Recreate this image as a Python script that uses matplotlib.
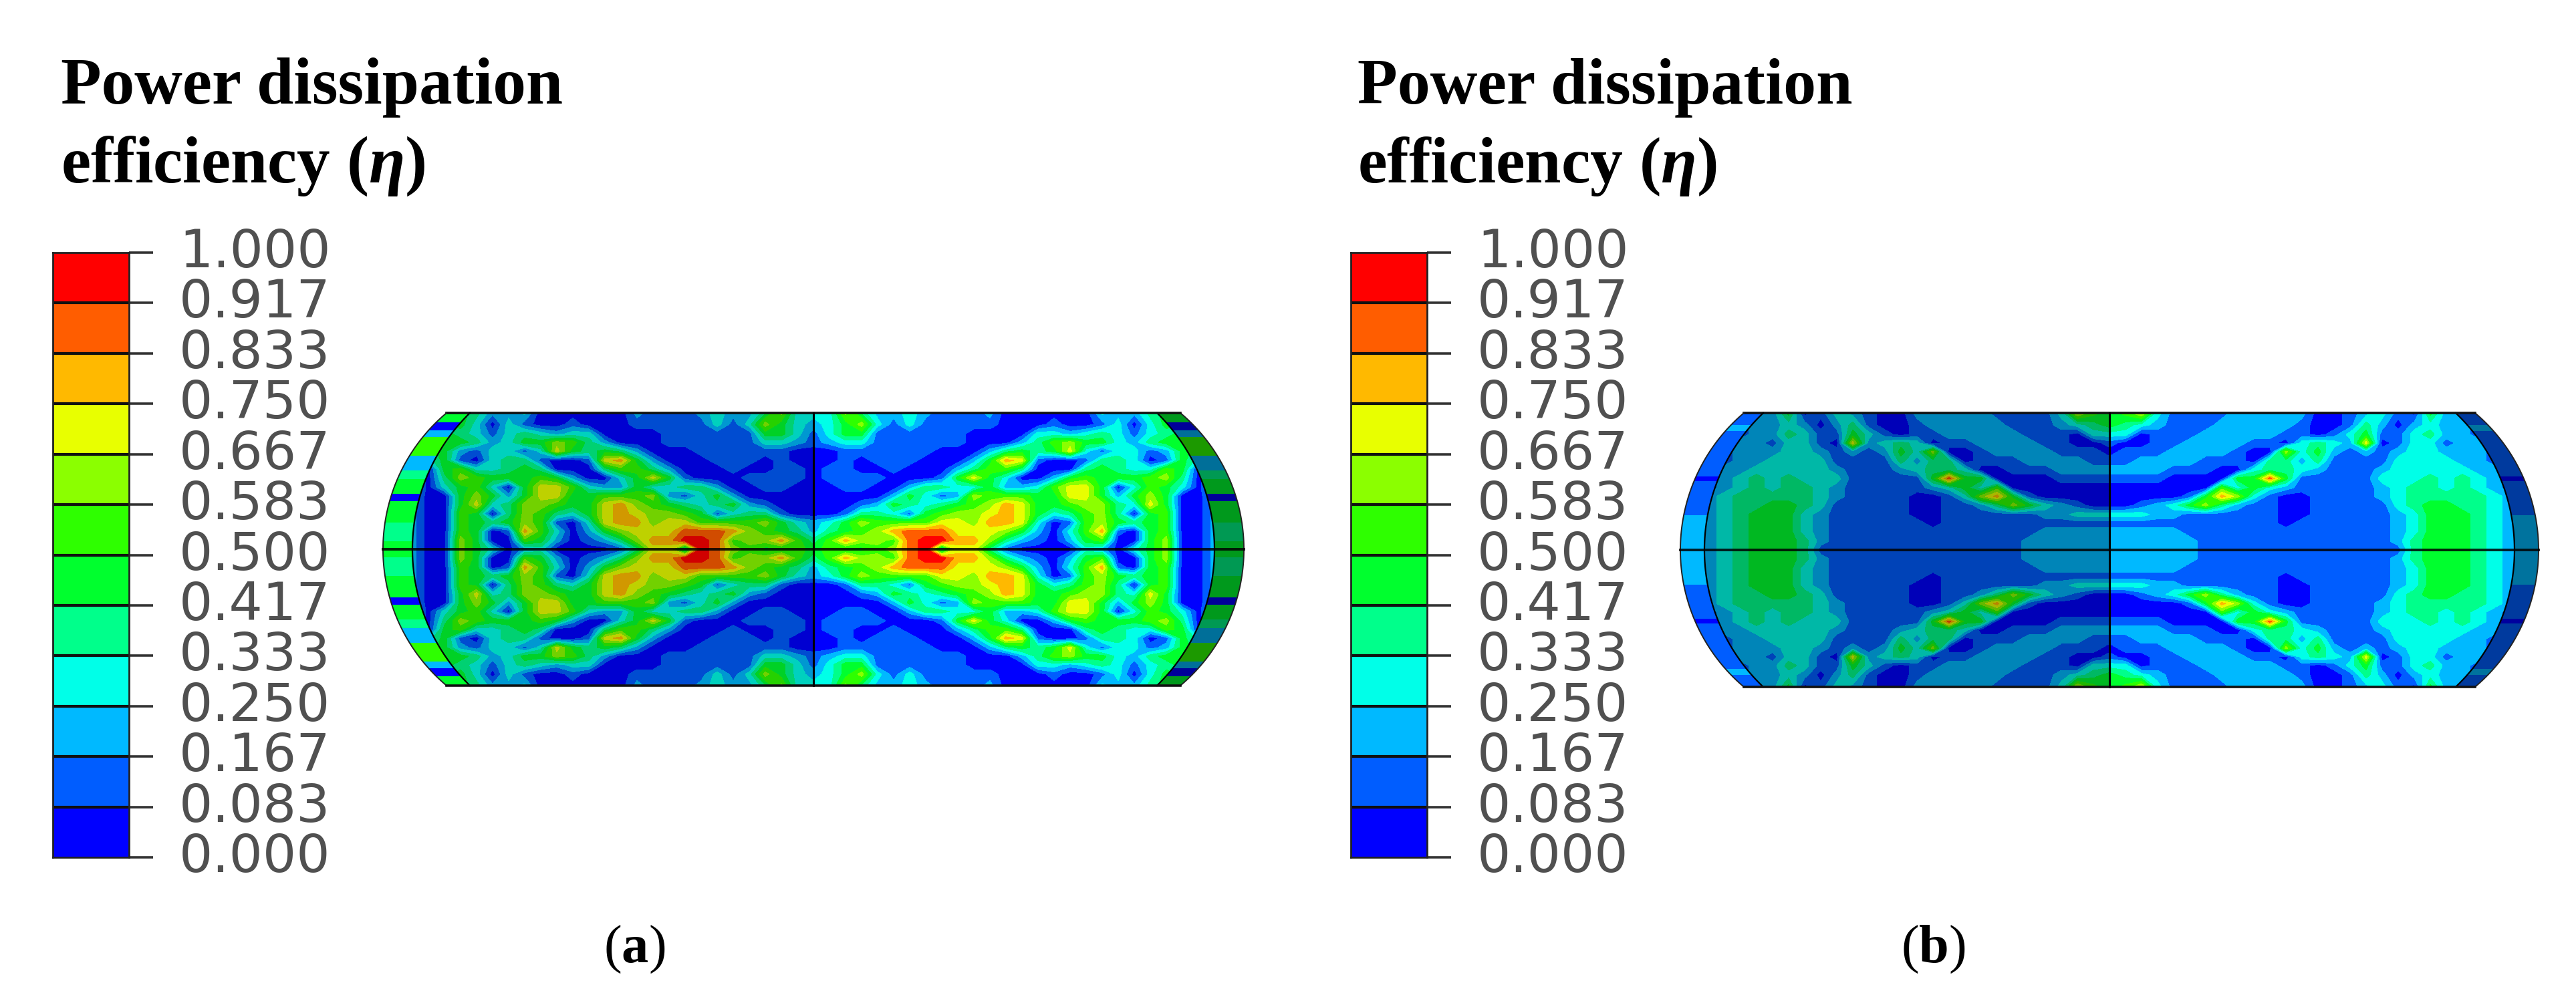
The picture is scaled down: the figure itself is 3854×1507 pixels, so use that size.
import numpy as np
import matplotlib
matplotlib.use("Agg")
import matplotlib.pyplot as plt
from matplotlib.path import Path
from matplotlib.patches import PathPatch

W, H = 3855, 1507

plt.rcParams['mathtext.fontset'] = 'custom'
plt.rcParams['mathtext.rm'] = 'Liberation Serif'
plt.rcParams['mathtext.bf'] = 'Liberation Serif:bold'
plt.rcParams['mathtext.bfit'] = 'Liberation Serif:italic:bold'

tick_values = ["1.000", "0.917", "0.833", "0.750", "0.667", "0.583", "0.500",
               "0.417", "0.333", "0.250", "0.167", "0.083", "0.000"]
spectrum = ["#0000ff", "#005dff", "#00b9ff", "#00ffe8", "#00ff8b", "#00ff2e",
            "#2eff00", "#8bff00", "#e8ff00", "#ffb900", "#ff5d00", "#ff0000"]

# contour band read at each grid node (0 = bottom legend band, 11 = top), top-right quarter
# rows run from the top edge down to the centre line
bands_a = [
    [3, 3, 7, 4, 2, 2, 3, 2, 1, 1, 1, 2, 0, 0, 0, 0, 0, 0, 3, 2, 2, 4, 5, 3, 3, 3, 3],
    [2, 3, 5, 7, 3, 1, 3, 1, 1, 1, 1, 1, 0, 0, 0, 1, 0, 0, 1, 3, 0, 3, 5, 4, 3, 3, 3],
    [1, 3, 5, 5, 1, 1, 1, 1, 1, 1, 0, 0, 0, 0, 3, 3, 2, 3, 4, 3, 1, 3, 4, 5, 4, 3, 3],
    [1, 2, 3, 3, 1, 1, 1, 1, 1, 1, 0, 0, 0, 2, 4, 6, 7, 5, 5, 3, 2, 4, 5, 5, 5, 3, 3],
    [0, 0, 1, 1, 1, 1, 1, 1, 0, 0, 0, 2, 4, 5, 4, 5, 8, 3, 1, 3, 3, 1, 2, 5, 4, 3, 3],
    [0, 0, 1, 0, 1, 1, 1, 0, 0, 0, 2, 5, 9, 8, 1, 0, 0, 1, 4, 4, 3, 0, 1, 5, 3, 3, 3],
    [0, 1, 1, 0, 0, 1, 0, 0, 0, 2, 4, 6, 6, 4, 0, 0, 0, 4, 5, 4, 3, 3, 6, 5, 0, 3, 3],
    [0, 1, 1, 1, 1, 0, 0, 0, 1, 5, 8, 5, 3, 0, 0, 2, 5, 6, 5, 5, 5, 6, 7, 4, 0, 3, 3],
    [0, 0, 1, 1, 0, 0, 2, 4, 4, 3, 3, 5, 2, 2, 3, 6, 8, 8, 5, 0, 3, 6, 5, 3, 0, 3, 3],
    [0, 0, 0, 0, 0, 2, 5, 3, 1, 2, 7, 6, 6, 6, 5, 5, 8, 8, 5, 2, 5, 7, 5, 0, 0, 2, 3],
    [0, 0, 0, 1, 2, 5, 4, 3, 4, 5, 6, 7, 9, 8, 5, 5, 6, 7, 7, 4, 3, 8, 5, 0, 0, 2, 3],
    [0, 0, 1, 4, 4, 3, 1, 5, 6, 7, 7, 8, 9, 8, 5, 3, 4, 6, 7, 4, 0, 5, 6, 0, 0, 2, 3],
    [2, 3, 5, 7, 6, 6, 6, 6, 8, 8, 7, 9, 9, 8, 3, 0, 1, 6, 7, 5, 4, 5, 6, 0, 0, 2, 3],
    [2, 4, 5, 6, 7, 9, 10, 10, 10, 8, 8, 8, 7, 5, 2, 0, 3, 6, 9, 1, 0, 5, 6, 0, 0, 2, 3],
    [4, 6, 9, 7, 7, 6, 10, 11, 11, 9, 9, 7, 4, 2, 1, 0, 2, 5, 6, 0, 0, 5, 7, 0, 0, 2, 3],
    [5, 6, 5, 5, 6, 7, 10, 11, 3, 8, 8, 4, 1, 0, 0, 0, 0, 3, 2, 0, 3, 5, 7, 0, 0, 2, 3],
]
bands_b = [
    [5, 6, 8, 3, 1, 1, 1, 1, 2, 2, 2, 2, 2, 0, 0, 1, 2, 3, 1, 0, 5, 2, 2, 1, 1, 1, 1],
    [5, 4, 3, 2, 1, 1, 1, 2, 2, 2, 2, 2, 1, 0, 0, 1, 4, 2, 0, 2, 3, 2, 2, 1, 1, 1, 1],
    [3, 3, 0, 1, 1, 1, 2, 2, 2, 2, 2, 1, 1, 0, 1, 3, 5, 1, 1, 3, 4, 2, 2, 1, 1, 1, 1],
    [1, 0, 0, 1, 1, 2, 2, 2, 2, 1, 1, 0, 3, 4, 3, 2, 8, 0, 1, 3, 3, 1, 2, 2, 1, 1, 1],
    [0, 1, 1, 1, 2, 2, 2, 2, 1, 0, 0, 7, 3, 5, 2, 1, 2, 1, 2, 3, 3, 2, 2, 2, 1, 1, 1],
    [1, 1, 2, 2, 2, 2, 1, 1, 1, 0, 4, 4, 2, 4, 1, 1, 1, 1, 3, 3, 3, 3, 2, 2, 1, 1, 1],
    [2, 2, 2, 2, 1, 1, 1, 0, 0, 3, 4, 4, 3, 2, 1, 1, 1, 2, 3, 3, 3, 3, 3, 2, 2, 1, 1],
    [1, 1, 1, 1, 0, 0, 0, 0, 5, 5, 10, 5, 1, 1, 1, 1, 1, 3, 3, 3, 4, 3, 4, 3, 2, 1, 1],
    [0, 0, 0, 0, 0, 0, 0, 6, 3, 5, 3, 2, 1, 1, 1, 1, 1, 2, 3, 4, 4, 3, 4, 3, 2, 1, 1],
    [0, 0, 0, 0, 0, 1, 5, 9, 7, 3, 1, 0, 0, 1, 1, 1, 1, 2, 3, 4, 4, 4, 4, 4, 3, 2, 2],
    [0, 0, 1, 2, 3, 5, 7, 4, 2, 1, 1, 0, 0, 1, 1, 1, 1, 1, 3, 4, 5, 5, 4, 4, 3, 2, 2],
    [3, 3, 3, 2, 2, 1, 1, 1, 1, 1, 1, 0, 0, 1, 1, 1, 1, 1, 2, 3, 5, 5, 5, 4, 3, 2, 2],
    [1, 1, 1, 1, 1, 1, 1, 1, 1, 1, 1, 0, 1, 1, 1, 1, 1, 1, 2, 3, 5, 5, 5, 4, 3, 2, 2],
    [2, 2, 2, 2, 2, 1, 1, 1, 1, 1, 1, 1, 1, 1, 1, 1, 1, 1, 2, 3, 5, 5, 5, 4, 3, 2, 2],
    [2, 2, 2, 2, 2, 2, 1, 1, 1, 1, 1, 1, 1, 1, 1, 1, 1, 1, 2, 4, 5, 5, 5, 4, 3, 2, 2],
    [2, 2, 2, 2, 2, 2, 1, 1, 1, 1, 1, 1, 1, 1, 1, 1, 1, 1, 1, 4, 5, 5, 5, 4, 3, 2, 2],
]
grid_x = [0, 24, 48, 72, 96, 120, 144, 168, 192, 216, 240, 264, 288, 312, 336, 360, 384, 408,
          432, 456, 480, 504, 528, 552, 576, 600, 624]
grid_y = [206, 187, 173, 160, 147, 133, 120, 107, 93, 80, 67, 53, 40, 27, 13, 0]

# stripes on the end caps, from the centre line outwards
cap_edges_a = [0, 12, 40, 72, 83, 105, 118, 140, 168, 178, 190, 206]
cap_bands_a = [5, 4, 5, 0, 5, 4, 2, 6, 2, 0, 5]
cap_edges_b = [0, 52, 103, 110, 178, 187, 206]
cap_bands_b = [2, 1, 0, 1, 2, 1]


def shade(color, k):
    return tuple(c * k for c in matplotlib.colors.to_rgb(color))


def arc_x(y, top, mid, hh):
    s = mid - top
    r = (hh ** 2 + s ** 2) / (2 * s)
    return mid - r + np.sqrt(r ** 2 - y ** 2)


def barrel(hh, top, mid):
    ys = np.linspace(hh, -hh, 80)
    xs = arc_x(ys, top, mid, hh)
    verts = list(zip(xs, ys)) + list(zip(-xs[::-1], ys[::-1])) + [(xs[0], hh)]
    return Path(verts, closed=False)


def draw_panel(fig, cx, cy, hh, outer, corner, inner, inner_top, bands, edges, cap_bands, dark, cap_dark):
    half_w = outer + 12
    half_h = hh + 12
    ax = fig.add_axes([(cx - half_w) / W, 1 - (cy + half_h) / H, 2 * half_w / W, 2 * half_h / H])
    ax.set_xlim(-half_w, half_w)
    ax.set_ylim(-half_h, half_h)
    ax.set_axis_off()

    levels = np.linspace(0, 1, 13)
    eta = (np.array(bands, dtype=float) + 0.5) / 12
    eta = np.vstack([eta, eta[-2::-1]])
    ys = np.array(grid_y + [-v for v in grid_y[-2::-1]], dtype=float)
    xs = np.array(grid_x, dtype=float)

    # end caps first, the face goes on top
    outer_patch = PathPatch(barrel(hh, corner, outer), transform=ax.transData, fc='none', ec='none')
    ax.add_patch(outer_patch)
    for i, b in enumerate(cap_bands):
        for sign in (1, -1):
            y0 = edges[i] * sign
            h = (edges[i + 1] - edges[i]) * sign
            left = ax.barh(y0, outer + 5, left=-outer - 5, height=h, align='edge',
                           color=spectrum[b], edgecolor='none')
            right = ax.barh(y0, outer + 5, left=0, height=h, align='edge',
                            color=shade(spectrum[b], cap_dark), edgecolor='none')
            left[0].set_clip_path(outer_patch)
            right[0].set_clip_path(outer_patch)

    inner_patch = PathPatch(barrel(hh, inner_top, inner), transform=ax.transData,
                            fc='#0000ff', ec='none', zorder=2)
    ax.add_patch(inner_patch)
    right = ax.contourf(xs, ys, eta, levels=levels, colors=spectrum, zorder=3)
    left = ax.contourf(-xs, ys, eta, levels=levels,
                       colors=[shade(c, dark) for c in spectrum], zorder=3)
    right.set_clip_path(inner_patch)
    left.set_clip_path(inner_patch)

    # mesh edges
    yy = np.linspace(-hh, hh, 80)
    for sign in (1, -1):
        ax.plot(sign * arc_x(yy, inner_top, inner, hh), yy, color='black', lw=1.6, zorder=4)
        ax.plot(sign * arc_x(yy, corner, outer, hh), yy, color='#222222', lw=1.4, zorder=4)
        ax.plot([-corner, corner], [sign * hh, sign * hh], color='#111111', lw=2.6, zorder=4)
    ax.plot([-outer, outer], [0, 0], color='black', lw=2.8, alpha=0.85, zorder=4)
    ax.plot([0, 0], [-hh, hh], color='black', lw=2.2, zorder=4)


def draw_legend(fig, left):
    top, bottom, right = 378, 1283, left + 114
    ax = fig.add_axes([left / W, 1 - bottom / H, (right - left) / W, (bottom - top) / H])
    ax.set_xlim(0, 1)
    ax.set_ylim(0, 12)
    for i, c in enumerate(spectrum):
        ax.bar(0.5, 1, bottom=i, width=1, color=c, edgecolor='none')
    ax.hlines(range(1, 12), 0, 1, color='#101010', lw=3)
    ax.set_xticks([])
    ax.yaxis.tick_right()
    ax.set_yticks(range(13), labels=[])
    ax.tick_params(axis='y', length=26, width=2.6, color='#333333')
    for s in ax.spines.values():
        s.set_linewidth(2)
        s.set_color('#222222')
    for i, label in enumerate(tick_values):
        ax.annotate(label, xy=(1, 12 - i), xycoords=('axes fraction', 'data'),
                    xytext=(217, 0), textcoords='offset points', ha='right', va='center',
                    fontsize=57, color='#505050', family='DejaVu Sans',
                    annotation_clip=False)


def draw_title(fig, x, size, caption, caption_x):
    fig.text(x / W, 1 - 155 / H, "Power dissipation", family='Liberation Serif', weight='bold',
             fontsize=size, ha='left', va='baseline')
    fig.text(x / W, 1 - 273 / H, r"efficiency ($\mathbfit{\eta}$)", family='Liberation Serif',
             weight='bold', fontsize=size, ha='left', va='baseline')
    fig.text(caption_x / W, 1 - 1440 / H, r"($\mathbf{%s}$)" % caption, family='Liberation Serif',
             fontsize=58, ha='center', va='baseline')


fig = plt.figure(figsize=(W / 100, H / 100), dpi=100, facecolor='white')

draw_legend(fig, 79)
draw_legend(fig, 2021)
draw_title(fig, 91, 71.5, "a", 949)
draw_title(fig, 2031, 70.5, "b", 2892)
draw_panel(fig, 1217, 822, 204, 644, 549, 600, 514, bands_a, cap_edges_a, cap_bands_a, 0.82, 0.6)
draw_panel(fig, 3156, 823, 205, 642, 547, 606, 518, bands_b, cap_edges_b, cap_bands_b, 0.72, 0.62)

fig.savefig("out.png", dpi=100)
